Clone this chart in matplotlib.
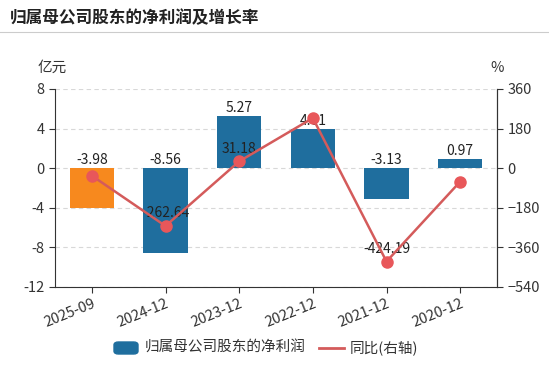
import matplotlib.pyplot as plt
from matplotlib.lines import Line2D
from matplotlib.patches import FancyBboxPatch

plt.rcParams['font.family'] = ['Noto Sans CJK SC', 'DejaVu Sans']

# data
periods = ['2025-09', '2024-12', '2023-12', '2022-12', '2021-12', '2020-12']
profit = [-3.98, -8.56, 5.27, 4.01, -3.13, 0.97]          # 亿元
growth = [-34, -262.64, 31.18, 228, -424.19, -61]         # %
growth_labels = {1: '-262.64', 2: '31.18', 4: '-424.19'}
left_ticks = [-12, -8, -4, 0, 4, 8]
right_ticks = [-540, -360, -180, 0, 180, 360]

blue = '#1f6e9e'
orange = '#f7891e'
red = '#d45b5b'
axc = '#333333'

fig = plt.figure(figsize=(5.49, 3.67), dpi=100)
ax = fig.add_axes([55 / 549, 1 - 287 / 367, (497 - 55) / 549, (287 - 89) / 367])

x = list(range(len(periods)))
colors = [orange] + [blue] * (len(periods) - 1)
ax.bar(x, profit, width=0.6, color=colors, zorder=2)
for i, v in enumerate(profit):
    ax.text(i, max(v, 0) + 0.1, f'{v:.2f}', ha='center', va='bottom',
            fontsize=10, color='#222222', zorder=5)

ax.set_xlim(-0.5, len(periods) - 0.5)
ax.set_ylim(-12, 8)
ax.set_yticks(left_ticks)
ax.set_yticklabels([str(t) for t in left_ticks])
ax.set_xticks(x)
ax.set_xticklabels(periods, rotation=22, ha='right', rotation_mode='anchor')
ax.grid(axis='y', color='#d8d8d8', linestyle=(0, (4, 3)), linewidth=0.8, zorder=0)
ax.tick_params(axis='both', labelsize=10.5, colors=axc, length=4, width=0.8)
ax.tick_params(axis='x', pad=3)
ax.spines['top'].set_visible(False)
for s in ['left', 'bottom', 'right']:
    ax.spines[s].set_color(axc)
    ax.spines[s].set_linewidth(0.8)

# right axis carries the growth line
ax2 = ax.twinx()
ax2.set_ylim(-540, 360)
ax2.set_yticks(right_ticks)
ax2.tick_params(axis='y', labelsize=10.5, colors=axc, length=4, width=0.8)
for s in ['top', 'left', 'bottom']:
    ax2.spines[s].set_visible(False)
ax2.spines['right'].set_color(axc)
ax2.spines['right'].set_linewidth(0.8)
ax2.plot(x, growth, color=red, linewidth=1.8, marker='o', markersize=8,
         markerfacecolor='#e8575a', markeredgecolor='#e8575a', zorder=4)
for i, lab in growth_labels.items():
    ax2.annotate(lab, (i, growth[i]), xytext=(0, 4), textcoords='offset points',
                 ha='center', va='bottom', fontsize=10, color='#222222')

fig.text(10 / 549, 1 - 18 / 367, '归属母公司股东的净利润及增长率', fontsize=12,
         fontweight='bold', color='#222222', va='center')
fig.add_artist(Line2D([0, 1], [1 - 32 / 367, 1 - 32 / 367], color='#cccccc', linewidth=0.8))
fig.text(52 / 549, 1 - 68 / 367, '亿元', fontsize=10.5, color=axc, ha='center', va='center')
fig.text(497 / 549, 1 - 68 / 367, '%', fontsize=10.5, color=axc, ha='center', va='center')

# legend
ly = 1 - 348 / 367
fig.add_artist(FancyBboxPatch((114 / 549, ly - 6 / 367), 24 / 549, 12 / 367,
                              boxstyle='round,pad=0,rounding_size=0.008',
                              color=blue, transform=fig.transFigure))
fig.text(145 / 549, ly, '归属母公司股东的净利润', fontsize=10.5, color=axc, va='center')
fig.add_artist(Line2D([319 / 549, 344 / 549], [ly, ly], color=red, linewidth=2))
fig.text(350 / 549, ly, '同比(右轴)', fontsize=10.5, color=axc, va='center')

fig.savefig('out.png', dpi=100)
